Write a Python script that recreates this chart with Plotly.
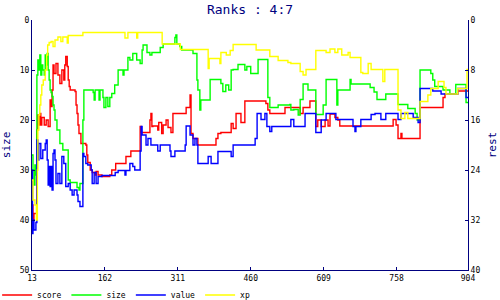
import plotly.graph_objects as go

# ---- data (x = turn, y = rank on the "size" scale) ----
score_x = [13,15,17,21,23,25,27,29,31,33, 38,42,46,50,52,54,56,58,62,66,
           70,74,78,80,82,85,87,89,91,101, 103,105,107,109,113,123,125,127,132,136,
           142,144,148,156,172,176,184,205,215,234, 236,254,256,258,260,270,272,278,281,287,
           291,297,301,328,336,338,342,352,389,393, 399,420,424,430,440,448,491,495,499,530,
           561,567,581,593,597,604,612,618,622,632, 638,642,751,757,761,767,769,806,853,857,
           883,904]
score_y = [37,40,38.7,38.7,22,19,21,18.7,21,19.5, 21,20,21.3,16,17.3,14,9,10.7,8.7,11,
           12.7,10,12,9,7.3,9.3,12,13.3,14,14.3, 17,18.7,21,22.7,24.7,25,27,28.5,30,30.5,
           31,30.3,31,31.3,31,30,28.7,27.3,26.2,21.3, 22.5,20,18.7,21.3,21.2,22,20.5,22.7,21,20,
           21.5,22.5,18.7,17.5,15,22.7,23.7,25,23.7,22.7, 22.5,20.7,21.7,18.7,20.5,16.2,16.7,18,18.7,17.5,
           18.7,17.5,16.2,21.3,20,21.3,20,21.2,18.8,19.5, 20,21.2,19.9,21,23.7,22.7,23.7,17.5,15.5,14.8,
           14.2,14.2]

size_x = [13,15,17,19,21,23,25,27,29,31, 33,35,38,40,42,44,46,48,50,52,
          54,56,58,60,64,70,76,87,91,105, 109,111,117,119,138,140,142,150,152,158,
          160,164,168,172,176,182,189,199,201,209, 213,219,227,234,238,240,248,254,258,275,
          281,305,307,309,315,319,342,350,352,356, 358,377,399,403,409,415,420,424,434,448,
          452,460,471,475,495,499,516,540,542,548, 557,561,567,577,591,593,608,614,634,636,
          638,663,665,704,712,718,736,761,781,796, 800,806,828,832,836,853,867,879,900,904]
size_y = [27,30,33,29,31,11,8,10,7,11, 9,10,11,7,9,6.7,10,12,14,14.5,
          15.3,17,18,20,22,24.7,26,32,32.5,33.5, 34,32.7,20,14,14.5,16,14,16,14,15.5,
          17.5,15.5,17.3,15.5,14.7,13,10,11,10,7.5, 8,6.7,8,8.7,6,5,6.5,7,6.5,5.5,
          4.8,3.5,3,4.8,5.3,6,6.7,12,14,18, 16,11.9,12.7,14.3,13,14,10,9.9,8.9,10,
          9.3,10.7,10.7,7.9,15.5,17.5,17,16.9,18,17.9, 19,15.9,12.8,14,14,18.9,17,11.9,11.9,17,
          14,11.9,12.8,13.5,14.4,15.9,14.8,16.9,17.7,18.7, 20,10,10.7,12,13.3,14,14.8,12.9,16.5,16.5]

value_x = [13,14,15,17,21,23,25,27,31,35, 40,42,44,46,48,50,52,54,56,58,
           60,62,66,70,74,78,82,87,91,95, 99,105,107,111,117,119,123,127,134,136,
           140,144,148,156,183,189,203,205,213,219, 223,234,236,238,246,250,256,270,275,295,
           297,305,326,328,336,342,346,350,352,373, 379,393,420,424,469,473,481,489,493,499,
           503,540,542,548,571,591,593,604,614,634, 669,673,675,685,706,714,726,736,761,767,
           792,802,806,832,849,883,900,904]
value_y = [30,42.7,40,42,40.5,24,28,24.7,27.7,26, 24.7,24,28,33,29.3,33.3,29.3,34,26.7,26,
           28,32.7,30.7,32.7,27.3,28.7,33.3,32.7,34,35, 34,35,36.3,37.3,26.7,27.3,28.7,29,30,32.7,
           30.5,32.7,31.3,31.1,30.5,30.1,31,30.1,28.7,29.3, 30,26.2,21.3,23,25,23.7,25,26.2,25,26.2,
           27.3,26.2,25,21.2,23,25,23.7,25,28.7,27.3, 28.7,26.3,27.3,25,23.7,18.7,19.9,18.7,21.3,22.3,
           21.3,21.3,19.9,21.3,18.7,18.7,22.5,20,18.7,19.9, 21.3,22.3,21.3,19.9,18.9,18.7,19.9,18.7,19.9,18.7,
           19.5,20.5,13.7,14.2,14.8,13.7,15.5,15.5]

xp_x = [13,15,19,22,24,25,27,29,31,33, 36,40,43,45,48,52,56,60,66,72,
        76,85,87,117,203,209,227,229,279,316, 373,375,397,399,410,418,424,471,499,516,
        536,542,561,567,573,593,614,622,632,638, 646,659,663,685,689,700,706,730,734,761,
        767,775,781,806,822,828,843,855,859,883, 902,904]
xp_y = [32,36,37,40,30,22,19,17,15,13, 12,10,7,5,4.5,4.3,5.3,4,3.4,4.3,
        3.4,4.6,3.1,2.5,3.6,2.5,3.6,2.5,4.8,5.9, 9.7,7.7,8.7,6.5,7,6.1,4.9,6,7.3,8.1,
        8.5,8.7,10.3,11,9.9,6.1,6.5,5.8,6.5,5.8, 7,6.5,7.5,10.5,10.7,8.7,9.9,12.3,9.9,18,
        19.7,18.5,19.7,16.3,15,13.7,12.3,13.5,14.8,13.7, 9.9,9.9]

x_ticks = [13, 162, 311, 460, 609, 758, 904]
left_ticks = [0, 10, 20, 30, 40, 50]
right_ticks = [0, 8, 16, 24, 32, 40]

series = [
    ("score", score_x, score_y, "#ff0000"),
    ("size", size_x, size_y, "#00ff00"),
    ("value", value_x, value_y, "#0000ff"),
    ("xp", xp_x, xp_y, "#ffff00"),
]

NAVY = "#000080"
MONO = "DejaVu Sans Mono, Liberation Mono, monospace"

fig = go.Figure()
for name, xs, ys, col in series:
    assert len(xs) == len(ys), name
    fig.add_trace(go.Scatter(x=xs, y=ys, name=name, mode="lines",
                             line=dict(color=col, width=1.4, shape="hv"),
                             hoverinfo="skip"))
# carrier for the right-hand axis
fig.add_trace(go.Scatter(x=[None], y=[None], yaxis="y2", showlegend=False,
                         hoverinfo="skip"))

axis_common = dict(showgrid=False, zeroline=False, showline=True, linecolor=NAVY,
                   linewidth=1, ticks="inside", tickcolor=NAVY, ticklen=3,
                   automargin=False,
                   tickfont=dict(family=MONO, size=8, color="black"))

fig.update_layout(
    width=500, height=300,
    margin=dict(l=32, r=32, t=20, b=30, autoexpand=False),
    paper_bgcolor="white", plot_bgcolor="white",
    title=dict(text="Ranks : 4:7", x=0.5, xanchor="center", y=0.967, yanchor="middle",
               font=dict(family=MONO, size=13, color=NAVY)),
    xaxis=dict(range=[13, 904], tickvals=x_ticks, **axis_common),
    yaxis=dict(range=[50, 0], tickvals=left_ticks,
               title=dict(text="size", font=dict(family=MONO, size=11, color=NAVY), standoff=7),
               **axis_common),
    yaxis2=dict(range=[40, 0], tickvals=right_ticks, overlaying="y", side="right",
                title=dict(text="rest", font=dict(family=MONO, size=11, color=NAVY), standoff=8),
                **axis_common),
    showlegend=True,
    legend=dict(orientation="h", x=-0.08, xanchor="left", y=-0.1, yanchor="middle",
                font=dict(family=MONO, size=8, color="black"), itemwidth=30,
                bgcolor="rgba(0,0,0,0)", tracegroupgap=0),
)

fig.write_html("out.html")
